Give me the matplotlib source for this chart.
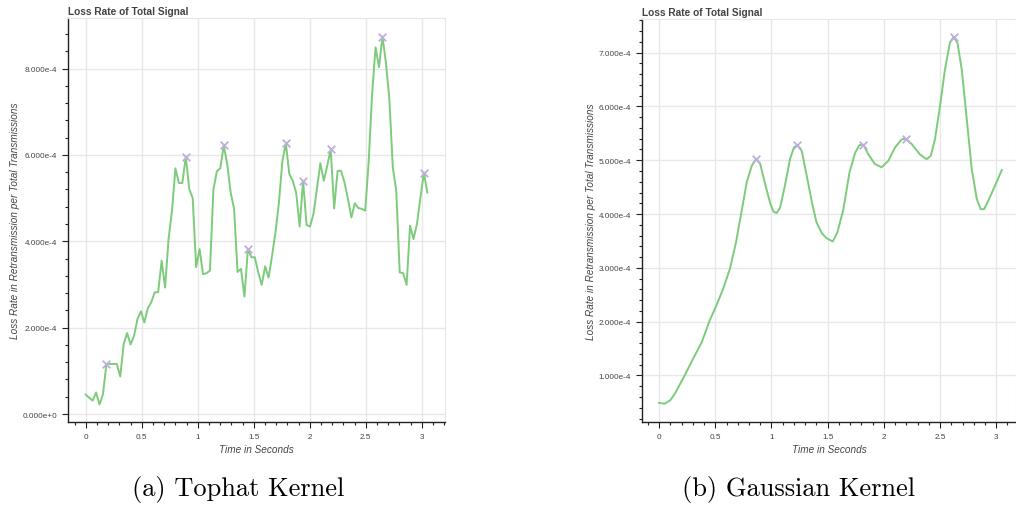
import matplotlib
matplotlib.use("Agg")
import matplotlib.pyplot as plt
import numpy as np
from matplotlib.ticker import FuncFormatter, MultipleLocator

# tophat kernel estimate, sampled on an even grid from 0 to 3.05 s (units of 1e-4)
tophat_rate = [
    0.45, 0.38, 0.31, 0.50, 0.22, 0.46, 1.16, 1.16, 1.16, 1.16,
    0.87, 1.62, 1.875, 1.61, 1.81, 2.20, 2.38, 2.12, 2.45, 2.59,
    2.82, 2.82, 3.55, 2.93, 4.05, 4.71, 5.69, 5.35, 5.35, 5.96,
    5.21, 5.00, 3.40, 3.82, 3.24, 3.26, 3.32, 5.19, 5.62, 5.69,
    6.22, 5.79, 5.13, 4.75, 3.29, 3.36, 2.72, 3.82, 3.63, 3.63,
    3.28, 2.99, 3.42, 3.16, 3.66, 4.21, 4.90, 5.86, 6.27, 5.56,
    5.40, 5.12, 4.34, 5.40, 4.38, 4.34, 4.63, 5.21, 5.81, 5.40,
    5.75, 6.13, 4.76, 5.63, 5.63, 5.36, 4.98, 4.55, 4.88, 4.77,
    4.75, 4.71, 5.83, 7.41, 8.49, 8.03, 8.74, 8.14, 7.29, 5.71,
    5.17, 3.28, 3.26, 2.99, 4.36, 4.05, 4.40, 5.00, 5.59, 5.13,
]
tophat_peaks = [6, 29, 40, 47, 58, 63, 71, 86, 98]

# gaussian kernel estimate (seconds, units of 1e-4)
gauss_time = [
    0.00, 0.05, 0.10, 0.14, 0.22, 0.30, 0.38, 0.45, 0.51, 0.57,
    0.63, 0.685, 0.735, 0.78, 0.825, 0.863, 0.90, 0.94, 0.99, 1.02,
    1.047, 1.077, 1.12, 1.165, 1.20, 1.23, 1.27, 1.314, 1.36, 1.40,
    1.45, 1.49, 1.546, 1.587, 1.64, 1.694, 1.745, 1.782, 1.818, 1.862,
    1.92, 1.98, 2.04, 2.10, 2.16, 2.198, 2.248, 2.32, 2.38, 2.417,
    2.455, 2.50, 2.544, 2.589, 2.62, 2.654, 2.693, 2.738, 2.782, 2.827,
    2.862, 2.892, 2.93, 2.99, 3.05,
]
gauss_rate = [
    0.49, 0.475, 0.54, 0.66, 0.97, 1.30, 1.62, 2.02, 2.30, 2.61,
    2.98, 3.48, 4.06, 4.59, 4.90, 5.02, 4.93, 4.59, 4.19, 4.04,
    4.02, 4.12, 4.53, 5.02, 5.24, 5.28, 5.17, 4.71, 4.22, 3.85,
    3.64, 3.55, 3.49, 3.66, 4.09, 4.77, 5.14, 5.28, 5.29, 5.11,
    4.93, 4.87, 4.99, 5.24, 5.39, 5.40, 5.30, 5.11, 5.02, 5.08,
    5.39, 6.01, 6.69, 7.19, 7.29, 7.19, 6.69, 5.76, 4.84, 4.28,
    4.09, 4.09, 4.25, 4.53, 4.82,
]
gauss_peaks = [15, 25, 38, 45, 54]

captions = ["(a) Tophat Kernel", "(b) Gaussian Kernel"]

LINE = "#7dcb7b"
MARK = "#bfaedd"
TEXT = "#444444"
GRID = "#e8e8e8"
FONT = ["Liberation Sans", "DejaVu Sans"]


def sci(v, pos):
    m, e = f"{v:.3e}".split("e")
    return f"{m}e{int(e):+d}"


def style_axes(ax, y_major, y_minor):
    ax.grid(True, color=GRID, linewidth=1.0)
    ax.set_axisbelow(True)
    for side in ("top", "right"):
        ax.spines[side].set_color(GRID)
    for side in ("left", "bottom"):
        ax.spines[side].set_color("#222222")
        ax.spines[side].set_linewidth(1.0)
    ax.xaxis.set_major_locator(MultipleLocator(0.5))
    ax.xaxis.set_minor_locator(MultipleLocator(0.1))
    ax.yaxis.set_major_locator(MultipleLocator(y_major))
    ax.yaxis.set_minor_locator(MultipleLocator(y_minor))
    ax.xaxis.set_major_formatter(FuncFormatter(lambda v, p: f"{v:g}"))
    ax.yaxis.set_major_formatter(FuncFormatter(sci))
    ax.tick_params(which="major", direction="out", length=4, width=0.8,
                   color="#222222", labelsize=5.9, labelcolor=TEXT, pad=4)
    ax.tick_params(which="minor", direction="out", length=2.5, width=0.8,
                   color="#222222")
    for lbl in ax.get_xticklabels() + ax.get_yticklabels():
        lbl.set_family(FONT)
    ax.set_xlabel("Time in Seconds", fontsize=7.2, style="italic", color=TEXT,
                  family=FONT, labelpad=3)
    ax.set_ylabel("Loss Rate in Retransmission per Total Transmissions",
                  fontsize=7.2, style="italic", color=TEXT, family=FONT,
                  labelpad=2)
    ax.set_title("Loss Rate of Total Signal", loc="left", fontsize=7.3,
                 fontweight="bold", color=TEXT, family=FONT, pad=3)


fig = plt.figure(figsize=(10.16, 5.06), dpi=100)

# tophat panel
ax1 = fig.add_axes([0.0674, 0.164, 0.3706, 0.7985])
th = np.array(tophat_rate) * 1e-4
th_t = np.linspace(0, 3.05, len(th))
ax1.plot(th_t, th, color=LINE, linewidth=1.4)
ax1.scatter(th_t[tophat_peaks], th[tophat_peaks], marker="x", s=30,
            color=MARK, linewidths=1.3, zorder=3)
ax1.set_xlim(-0.154, 3.208)
ax1.set_ylim(-0.185e-4, 9.17e-4)
style_axes(ax1, 2e-4, 0.4e-4)

# gaussian panel
ax2 = fig.add_axes([0.632, 0.164, 0.368, 0.797])
gt = np.array(gauss_time)
gr = np.array(gauss_rate) * 1e-4
ax2.plot(gt, gr, color=LINE, linewidth=1.4)
ax2.scatter(gt[gauss_peaks], gr[gauss_peaks], marker="x", s=30,
            color=MARK, linewidths=1.3, zorder=3)
ax2.set_xlim(-0.151, 3.176)
ax2.set_ylim(0.135e-4, 7.63e-4)
style_axes(ax2, 1e-4, 0.2e-4)

fig.text(238 / 1016, 1 - 490 / 506, captions[0], ha="center", va="center",
         fontsize=19, family="cmr10")
fig.text(799 / 1016, 1 - 490 / 506, captions[1], ha="center", va="center",
         fontsize=19, family="cmr10")

fig.savefig("out.png", dpi=100)
